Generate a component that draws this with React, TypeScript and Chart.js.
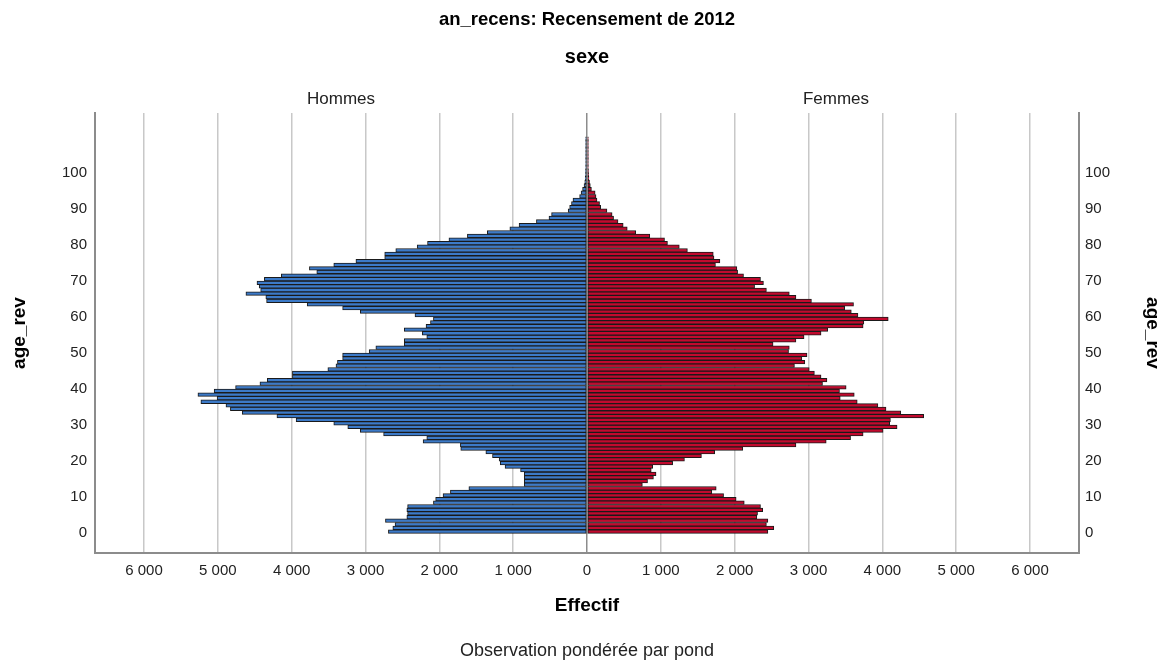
import React, { useEffect, useRef } from 'react';
import { Chart, registerables } from 'chart.js';

Chart.register(...registerables);

const FONT = "'Liberation Sans', Arial, Helvetica, sans-serif";

const TITLE = 'an_recens: Recensement de 2012';
const SUBTITLE = 'sexe';
const PANELS = ['Hommes', 'Femmes'];
const X_TITLE = 'Effectif';
const Y_TITLE = 'age_rev';
const FOOTNOTE = 'Observation pondérée par pond';

// ages (categories)
const AGES = [
  0, 1, 2, 3, 4, 5, 6, 7, 8, 9,
  10, 11, 12, 13, 14, 15, 16, 17, 18, 19,
  20, 21, 22, 23, 24, 25, 26, 27, 28, 29,
  30, 31, 32, 33, 34, 35, 36, 37, 38, 39,
  40, 41, 42, 43, 44, 45, 46, 47, 48, 49,
  50, 51, 52, 53, 54, 55, 56, 57, 58, 59,
  60, 61, 62, 63, 64, 65, 66, 67, 68, 69,
  70, 71, 72, 73, 74, 75, 76, 77, 78, 79,
  80, 81, 82, 83, 84, 85, 86, 87, 88, 89,
  90, 91, 92, 93, 94, 95, 96, 97, 98, 99,
  100, 101, 102, 103, 104, 105, 106, 107, 108, 109,
];

const HOMMES = [
  2690, 2630, 2600, 2730, 2440, 2430, 2440, 2430, 2080, 2050,
  1950, 1850, 1600, 850, 850, 850, 850, 900, 1110, 1175,
  1190, 1280, 1370, 1710, 1715, 2220, 2170, 2755, 3070, 3240,
  3430, 3940, 4200, 4670, 4830, 4890, 5230, 5010, 5270, 5050,
  4760, 4430, 4330, 3990, 3990, 3510, 3400, 3380, 3310, 3310,
  2950, 2860, 2475, 2475, 2170, 2230, 2475, 2180, 2120, 2080,
  2330, 3070, 3310, 3790, 4340, 4350, 4620, 4420, 4440, 4470,
  4370, 4140, 3660, 3760, 3430, 3130, 2740, 2740, 2590, 2300,
  2160, 1870, 1620, 1350, 1045, 920, 685, 515, 480, 255,
  235, 210, 190, 100, 80, 60, 40, 30, 24, 20,
  20, 18, 18, 18, 18, 18, 18, 18, 18, 18,
];

const FEMMES = [
  2450, 2530, 2430, 2450, 2300, 2310, 2380, 2350, 2130, 2020,
  1850, 1690, 1750, 750, 820, 900, 935, 870, 890, 1160,
  1320, 1550, 1730, 2110, 2830, 3240, 3570, 3740, 4010, 4200,
  4100, 4110, 4560, 4250, 4050, 3940, 3660, 3430, 3620, 3420,
  3510, 3190, 3250, 3170, 3080, 3010, 2810, 2950, 2910, 2980,
  2730, 2740, 2520, 2830, 2940, 3170, 3260, 3740, 3750, 4080,
  3670, 3580, 3490, 3610, 3040, 2830, 2740, 2430, 2270, 2390,
  2350, 2120, 2040, 2030, 1740, 1800, 1720, 1710, 1360, 1250,
  1090, 1050, 850, 660, 545, 490, 420, 360, 340, 270,
  185, 170, 135, 122, 110, 60, 45, 34, 26, 22,
  20, 18, 18, 18, 18, 18, 18, 18, 18, 18,
];

const AGE_TICKS = [0, 10, 20, 30, 40, 50, 60, 70, 80, 90, 100];
const EFFECTIF_TICKS = [-6000, -5000, -4000, -3000, -2000, -1000, 0, 1000, 2000, 3000, 4000, 5000, 6000];

const X_LIMIT = 6664;
const Y_MIN = -5.46;
const Y_MAX = 116.6;

const fmt = (v: number) => {
  const a = Math.abs(v);
  if (a === 0) return '0';
  const th = Math.floor(a / 1000);
  const rest = String(a % 1000).padStart(3, '0');
  return `${th} ${rest}`;
};

const panelPlugin = {
  id: 'panelLabels',
  afterDraw(chart: any) {
    const { ctx, chartArea } = chart;
    const zero = chart.scales.x.getPixelForValue(0);
    ctx.save();
    ctx.fillStyle = '#222';
    ctx.textAlign = 'center';
    ctx.textBaseline = 'middle';
    ctx.font = `17px ${FONT}`;
    ctx.fillText(PANELS[0], (chartArea.left + zero) / 2, chartArea.top - 14);
    ctx.fillText(PANELS[1], (zero + chartArea.right) / 2 + 3, chartArea.top - 14);
    ctx.font = `18px ${FONT}`;
    ctx.fillText(FOOTNOTE, zero, chart.height - 13);
    ctx.restore();
  },
};

const yScale = (position: 'left' | 'right') => ({
  type: 'linear' as const,
  position,
  min: Y_MIN,
  max: Y_MAX,
  offset: false,
  stacked: true,
  afterBuildTicks: (s: any) => {
    s.ticks = AGE_TICKS.map((v) => ({ value: v }));
  },
  afterFit: (s: any) => {
    s.width = position === 'left' ? 95 : 85;
  },
  ticks: {
    color: '#222',
    font: { family: FONT, size: 15 },
    padding: position === 'left' ? 8 : 6,
    autoSkip: false,
  },
  grid: { display: false, drawTicks: false, offset: false },
  border: { display: true, color: '#8c8c8c', width: 2 },
  title: {
    display: true,
    text: Y_TITLE,
    color: '#000',
    font: { family: FONT, size: 19, weight: 'bold' as const },
    padding: { top: position === 'left' ? 8.6 : 0, bottom: 0 },
  },
});

export default function App() {
  const ref = useRef<HTMLCanvasElement>(null);

  useEffect(() => {
    const canvas = ref.current;
    if (!canvas) return;
    Chart.defaults.font.family = FONT;
    const chart = new Chart(canvas, {
      type: 'bar',
      data: {
        datasets: [
          {
            label: PANELS[0],
            data: AGES.map((a, i) => ({ x: -HOMMES[i], y: a + 0.5 })),
            backgroundColor: '#3c7ac8',
            borderColor: '#1a1a1a',
            borderWidth: 1,
            borderSkipped: false,
            barPercentage: 1,
            categoryPercentage: 1,
          },
          {
            label: PANELS[1],
            data: AGES.map((a, i) => ({ x: FEMMES[i], y: a + 0.5 })),
            backgroundColor: '#c20a2e',
            borderColor: '#1a1a1a',
            borderWidth: 1,
            borderSkipped: false,
            barPercentage: 1,
            categoryPercentage: 1,
          },
        ],
      } as any,
      options: {
        indexAxis: 'y',
        animation: false,
        responsive: false,
        maintainAspectRatio: false,
        layout: { padding: 0 },
        plugins: {
          legend: { display: false },
          tooltip: { enabled: false },
          title: {
            display: true,
            fullSize: false,
            text: TITLE,
            color: '#000',
            font: { family: FONT, size: 18.5, weight: 'bold' },
            padding: { top: 8.9, bottom: 0 },
          },
          subtitle: {
            display: true,
            fullSize: false,
            text: SUBTITLE,
            color: '#000',
            font: { family: FONT, size: 20, weight: 'bold' },
            padding: { top: 13.9, bottom: 44 },
          },
        },
        scales: {
          x: {
            type: 'linear',
            position: 'bottom',
            min: -X_LIMIT,
            max: X_LIMIT,
            stacked: true,
            afterBuildTicks: (s: any) => {
              s.ticks = EFFECTIF_TICKS.map((v) => ({ value: v }));
            },
            afterFit: (s: any) => {
              s.height = 111;
            },
            ticks: {
              color: '#222',
              font: { family: FONT, size: 15 },
              padding: 9,
              maxRotation: 0,
              autoSkip: false,
              callback: (v: any) => fmt(Number(v)),
            },
            grid: {
              drawTicks: false,
              lineWidth: 1.5,
              color: (c: any) => (c.tick && c.tick.value === 0 ? '#8c8c8c' : '#c8c8c8'),
            },
            border: { display: true, color: '#8c8c8c', width: 2 },
            title: {
              display: true,
              text: X_TITLE,
              color: '#000',
              font: { family: FONT, size: 19, weight: 'bold' },
              padding: { top: 0, bottom: 46.6 },
            },
          },
          y: yScale('left'),
          y2: yScale('right'),
        } as any,
      },
      plugins: [panelPlugin],
    });
    return () => chart.destroy();
  }, []);

  return (
    <div style={{ position: 'absolute', left: 0, top: 0, width: 1164, height: 664, background: '#fff' }}>
      <canvas ref={ref} width={1164} height={664} style={{ display: 'block', width: 1164, height: 664 }} />
    </div>
  );
}
